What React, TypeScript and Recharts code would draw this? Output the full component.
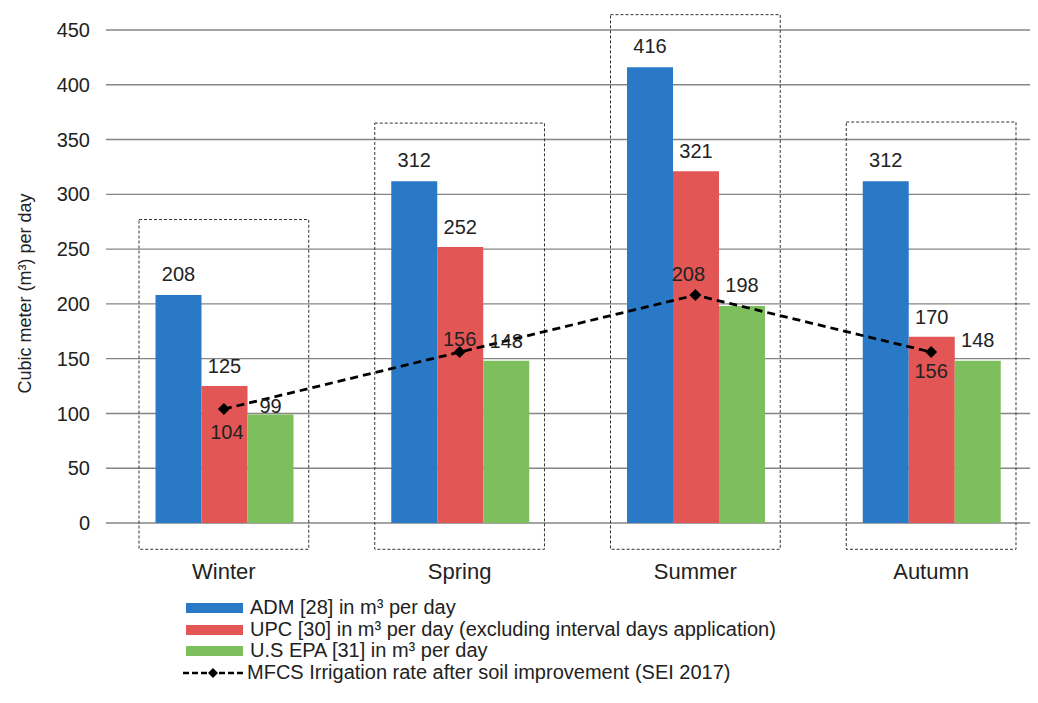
import React from 'react';
import { ComposedChart, Bar, Line, XAxis, YAxis, CartesianGrid, LabelList, ReferenceArea } from 'recharts';

const seasons = ['Winter', 'Spring', 'Summer', 'Autumn'];
const admValues = [208, 312, 416, 312];
const upcValues = [125, 252, 321, 170];
const epaValues = [99, 148, 198, 148];
const mfcsValues = [104, 156, 208, 156];
const boxTops = [277, 365, 464, 366];
const boxBottom = -24;
const yTicks = [0, 50, 100, 150, 200, 250, 300, 350, 400, 450];

// label placement tweaks, as in the original figure
const mfcsLabelDy = [30, -6, -14, 26];
const mfcsLabelDx = [3, 0, -7, 0];
const epaLabelOffset = [2, 13, 14, 14];

const data = seasons.map((season, i) => ({
  season,
  adm: admValues[i],
  upc: upcValues[i],
  epa: epaValues[i],
  mfcs: mfcsValues[i],
}));

const FONT = '"Liberation Sans", Arial, sans-serif';
const BLUE = '#2979c6';
const RED = '#e35656';
const GREEN = '#7dbf5c';
const TEXT = '#222';

const legendItems = [
  { label: 'ADM [28] in m³ per day', color: BLUE },
  { label: 'UPC [30] in m³ per day (excluding interval days application)', color: RED },
  { label: 'U.S EPA [31] in m³ per day', color: GREEN },
];

const DashedBox = (props: any) => {
  const { x, y, width, height } = props;
  const w = width * 0.72;
  return (
    <rect
      x={x + (width - w) / 2}
      y={y}
      width={w}
      height={height}
      fill="none"
      stroke="#333"
      strokeWidth={1}
      strokeDasharray="3 2"
    />
  );
};

const Diamond = (props: any) => {
  const { cx, cy, index } = props;
  const r = 6;
  return (
    <path
      key={`d-${index}`}
      d={`M${cx},${cy - r}L${cx + r},${cy}L${cx},${cy + r}L${cx - r},${cy}Z`}
      fill="#000"
    />
  );
};

const MfcsLabel = (props: any) => {
  const { x, y, value, index } = props;
  return (
    <text
      key={`l-${index}`}
      x={x + mfcsLabelDx[index]}
      y={y + mfcsLabelDy[index]}
      textAnchor="middle"
      fontSize={20}
      fontFamily={FONT}
      fill={TEXT}
    >
      {value}
    </text>
  );
};

const EpaLabel = (props: any) => {
  const { x, y, width, value, index } = props;
  return (
    <text
      key={`e-${index}`}
      x={x + width / 2}
      y={y - epaLabelOffset[index]}
      textAnchor="middle"
      fontSize={20}
      fontFamily={FONT}
      fill={TEXT}
    >
      {value}
    </text>
  );
};

const YLabel = (props: any) => {
  const { viewBox } = props;
  const cx = 25;
  const cy = viewBox.y + viewBox.height / 2 + 17;
  return (
    <text
      x={cx}
      y={cy}
      transform={`rotate(-90 ${cx} ${cy})`}
      textAnchor="middle"
      dominantBaseline="central"
      fontSize={18}
      fontFamily={FONT}
      fill={TEXT}
    >
      Cubic meter (m³) per day
    </text>
  );
};

export default function App() {
  const labelStyle = { fontSize: 20, fontFamily: FONT, fill: TEXT };
  return (
    <div style={{ position: 'relative', margin: -8, width: 1038, height: 703, overflow: 'hidden', background: '#fff' }}>
      <ComposedChart
        width={1050}
        height={703}
        data={data}
        margin={{ top: 30, right: 1, bottom: 150, left: 36 }}
        barCategoryGap="21%"
        barGap={0}
      >
        <CartesianGrid vertical={false} stroke="#858585" strokeWidth={1.4} />
        <XAxis
          dataKey="season"
          axisLine={false}
          tickLine={false}
          tickMargin={34}
          tick={{ fontSize: 22, fontFamily: FONT, fill: TEXT }}
        />
        <YAxis
          width={70}
          domain={[0, 450]}
          ticks={yTicks}
          axisLine={false}
          tickLine={false}
          tickMargin={10}
          tick={{ fontSize: 20, fontFamily: FONT, fill: TEXT }}
          label={<YLabel />}
        />
        {seasons.map((s, i) => (
          <ReferenceArea
            key={s}
            x1={s}
            x2={s}
            y1={boxBottom}
            y2={boxTops[i]}
            ifOverflow="visible"
            shape={<DashedBox />}
          />
        ))}
        <Bar dataKey="adm" fill={BLUE} isAnimationActive={false}>
          <LabelList dataKey="adm" position="top" offset={14} style={labelStyle} />
        </Bar>
        <Bar dataKey="upc" fill={RED} isAnimationActive={false}>
          <LabelList dataKey="upc" position="top" offset={13} style={labelStyle} />
        </Bar>
        <Bar dataKey="epa" fill={GREEN} isAnimationActive={false}>
          <LabelList dataKey="epa" content={EpaLabel} />
        </Bar>
        <Line
          dataKey="mfcs"
          stroke="#000"
          strokeWidth={2.8}
          strokeDasharray="8 5"
          dot={Diamond}
          activeDot={false}
          label={MfcsLabel}
          isAnimationActive={false}
        />
      </ComposedChart>
      <div style={{ position: 'absolute', left: 186, top: 597, fontFamily: FONT, fontSize: 20, color: TEXT, lineHeight: '21.7px' }}>
        {legendItems.map((it) => (
          <div key={it.label} style={{ display: 'flex', alignItems: 'center', whiteSpace: 'nowrap' }}>
            <span style={{ display: 'inline-block', width: 57, height: 10, background: it.color, marginRight: 7 }} />
            <span>{it.label}</span>
          </div>
        ))}
        <div style={{ display: 'flex', alignItems: 'center', whiteSpace: 'nowrap' }}>
          <svg width={60} height={12} style={{ marginRight: 4, marginLeft: -3 }}>
            <line x1={0} y1={6} x2={60} y2={6} stroke="#000" strokeWidth={2.4} strokeDasharray="6 3" />
            <path d="M30,1L35,6L30,11L25,6Z" fill="#000" />
          </svg>
          <span>MFCS Irrigation rate after soil improvement (SEI 2017)</span>
        </div>
      </div>
    </div>
  );
}
